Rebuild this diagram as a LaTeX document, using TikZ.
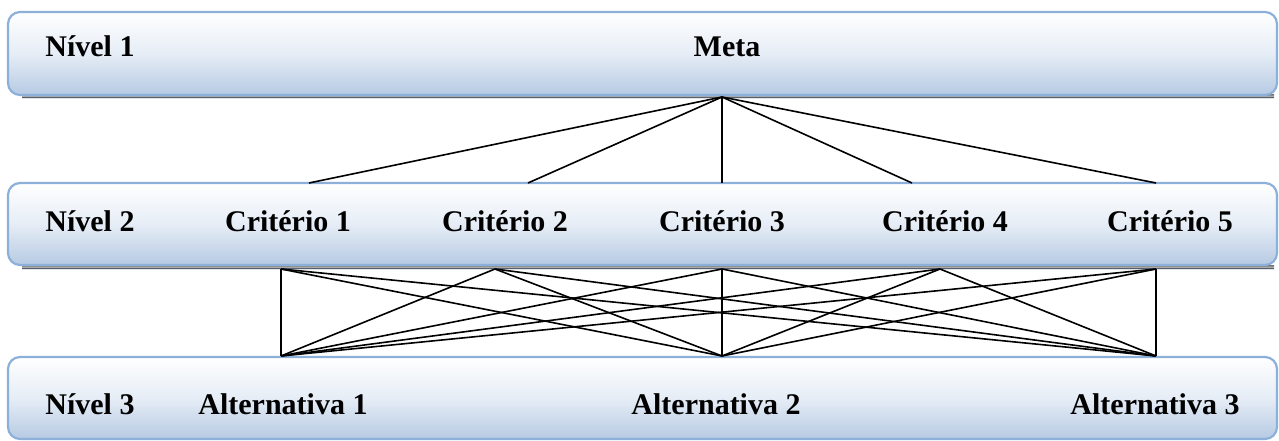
\documentclass[tikz,border=0pt]{standalone}
\usepackage{fontspec}
\setmainfont{Liberation Serif}
\begin{document}
\begin{tikzpicture}[x=1pt,y=-1pt,
  bar/.style={draw=barline, line width=2.2pt, rounded corners=12pt,
    top color=white, bottom color=barfill, middle color=barmid},
  lbl/.style={font=\fontsize{30}{32}\selectfont\bfseries, text=black, inner sep=0pt, anchor=base},
  wire/.style={line width=1.6pt, black}]
\definecolor{barline}{HTML}{8DB0DA}
\definecolor{barfill}{HTML}{B6CAE3}
\definecolor{barmid}{HTML}{E6EDF6}
\definecolor{shade}{HTML}{9AA8B8}
\definecolor{tick}{HTML}{556070}
\useasboundingbox (0,0) rectangle (1279,441);
\fill[white] (0,0) rectangle (1279,441);

% shadow bands beneath the upper two bars
\foreach \y in {97,268}{
  \fill[shade] (22,\y-2.5) rectangle (1274,\y+2);
  \draw[tick, line width=0.6pt, dash pattern=on 0.8pt off 9.5pt] (22,\y) -- (1274,\y);
  \draw[tick, line width=0.6pt] (22,\y+0.5) -- (1274,\y+0.5);
}

% the three level bars
\path[bar] (8,12) rectangle (1277,95);
\path[bar] (8,183) rectangle (1277,265);
\path[bar] (8,357) rectangle (1277,439);

% labels
\node[lbl] (n1) at (90,57) {Nível 1};
\node[lbl] (meta) at (727,57) {Meta};
\node[lbl] (n2) at (90,231) {Nível 2};
\node[lbl] (cr1) at (288,231) {Critério 1};
\node[lbl] (cr2) at (505,231) {Critério 2};
\node[lbl] (cr3) at (722,231) {Critério 3};
\node[lbl] (cr4) at (945,231) {Critério 4};
\node[lbl] (cr5) at (1170,231) {Critério 5};
\node[lbl] (n3) at (90,414) {Nível 3};
\node[lbl] (al1) at (283,414) {Alternativa 1};
\node[lbl] (al2) at (716,414) {Alternativa 2};
\node[lbl] (al3) at (1155,414) {Alternativa 3};

% connector anchor points
\coordinate (m) at (722,97);
\coordinate (t1) at (309,183);
\coordinate (t2) at (528,183);
\coordinate (t3) at (722,183);
\coordinate (t4) at (912,183);
\coordinate (t5) at (1156,183);
\coordinate (b1) at (281,269);
\coordinate (b2) at (495,269);
\coordinate (b3) at (722,269);
\coordinate (b4) at (940,269);
\coordinate (b5) at (1156,269);
\coordinate (a1) at (281,356);
\coordinate (a2) at (722,356);
\coordinate (a3) at (1156,356);

% goal to criteria
\foreach \t in {t1,t2,t3,t4,t5}
  \draw[wire] (m) -- (\t);
% criteria to alternatives
\foreach \b in {b1,b2,b3,b4,b5}
  \foreach \a in {a1,a2,a3}
    \draw[wire] (\b) -- (\a);
\end{tikzpicture}
\end{document}
